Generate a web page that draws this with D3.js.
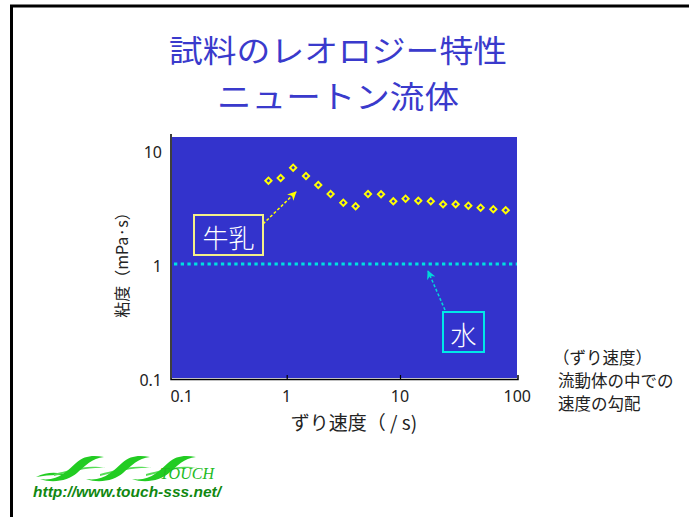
<!DOCTYPE html>
<html><head><meta charset="utf-8">
<script src="https://cdn.jsdelivr.net/npm/d3@7"></script>
<style>body{margin:0;background:#fff}svg{display:block}</style>
</head><body>
<script>
// ---- data ----
const titleLines = ["試料のレオロジー特性", "ニュートン流体"];
const shearRate = [0.69, 0.885, 1.14, 1.48, 1.90, 2.44, 3.16, 4.06, 5.22, 6.80, 8.73, 11.2, 14.5, 18.7, 24.0, 31.0, 40.1, 51.5, 66.6, 85.7];
const milkViscosity = [5.38, 5.68, 7.0, 5.91, 4.93, 4.11, 3.45, 3.21, 4.11, 4.09, 3.55, 3.74, 3.59, 3.55, 3.34, 3.34, 3.25, 3.12, 3.02, 2.96];
const waterViscosity = 1.0;
const xTicks = [0.1, 1, 10, 100];
const xTickLabels = ["0.1", "1", "10", "100"];
const yTicks = [0.1, 1, 10];
const yTickLabels = ["0.1", "1", "10"];
const xLabel = "ずり速度（ / s)";
const yLabel = "粘度（mPa·s）";
const noteLines = ["（ずり速度）", "流動体の中での", "速度の勾配"];
const milkLabel = "牛乳", waterLabel = "水";

const W = 689, H = 517;
const svg = d3.select("body").append("svg").attr("width", W).attr("height", H);
const jp = "'Noto Sans CJK JP', 'Noto Sans', sans-serif";

// slide frame
svg.append("rect").attr("x", 11.5).attr("y", 6).attr("width", 700).attr("height", 540)
  .attr("fill", "none").attr("stroke", "#000").attr("stroke-width", 3);

// title
svg.selectAll("text.title").data(titleLines).join("text")
  .attr("x", 338).attr("y", (d, i) => 48 + i * 46)
  .attr("text-anchor", "middle").attr("dominant-baseline", "central")
  .attr("font-family", jp).attr("font-size", 31).attr("fill", "#3a3acc")
  .attr("textLength", (d, i) => i === 0 ? 338 : 242).attr("lengthAdjust", "spacingAndGlyphs")
  .text(d => d);

// scales
const x = d3.scaleLog().domain([0.1, 100]).range([173.4, 513.3]);
const y = d3.scaleLog().domain([0.1, 10]).range([378, 150]);

// plot background
svg.append("rect").attr("x", 172).attr("y", 137).attr("width", 517 - 172).attr("height", 378 - 137)
  .attr("fill", "#3333cc");

// axes
const gx = svg.append("g").attr("transform", "translate(0,379)")
  .call(d3.axisBottom(x).tickValues([1, 10]).tickSize(-4).tickFormat(""));
gx.select(".domain").remove();
gx.selectAll(".tick line").attr("stroke", "#000").attr("stroke-width", 1.2);
svg.append("path").attr("d", "M171,134V379.5H518V375").attr("fill", "none").attr("stroke", "#000").attr("stroke-width", 1.5);

svg.selectAll("text.xt").data(xTicks).join("text")
  .attr("x", (d, i) => i === 0 ? x(d) - 3 : x(d) + (i === 3 ? 4 : 0))
  .attr("y", 396).attr("text-anchor", (d, i) => i === 0 ? "start" : "middle")
  .attr("dominant-baseline", "central")
  .attr("font-family", "'Noto Sans', sans-serif").attr("font-size", 16).attr("fill", "#222")
  .text((d, i) => xTickLabels[i]);
svg.selectAll("text.yt").data(yTicks).join("text")
  .attr("x", 162).attr("y", d => y(d) + 2).attr("text-anchor", "end")
  .attr("dominant-baseline", "central")
  .attr("font-family", "'Noto Sans', sans-serif").attr("font-size", 16).attr("fill", "#222")
  .text((d, i) => yTickLabels[i]);

svg.append("text").attr("x", 354).attr("y", 421).attr("text-anchor", "middle")
  .attr("dominant-baseline", "central").attr("font-family", jp).attr("font-size", 19).attr("fill", "#222")
  .text(xLabel);
svg.append("text").attr("transform", "translate(121,261) rotate(-90)").attr("text-anchor", "middle")
  .attr("dominant-baseline", "central").attr("font-family", jp).attr("font-size", 16).attr("fill", "#222")
  .text(yLabel);

// water line
svg.append("line").attr("x1", 174).attr("x2", 517).attr("y1", y(waterViscosity)).attr("y2", y(waterViscosity))
  .attr("stroke", "#00e0e0").attr("stroke-width", 3.2).attr("stroke-dasharray", "3.3,3.4");

// milk markers
const sym = d3.symbol().type(d3.symbolSquare).size(20);
svg.selectAll("path.milk").data(shearRate).join("path")
  .attr("transform", (d, i) => `translate(${x(d)},${y(milkViscosity[i])}) rotate(45)`)
  .attr("d", sym).attr("fill", "#3333cc").attr("stroke", "#ffff00").attr("stroke-width", 1.9);

// arrows
const defs = svg.append("defs");
function marker(id, color) {
  defs.append("marker").attr("id", id).attr("viewBox", "0 0 10 10").attr("refX", 9).attr("refY", 5)
    .attr("markerWidth", 9).attr("markerHeight", 9).attr("orient", "auto").attr("markerUnits", "userSpaceOnUse")
    .append("path").attr("d", "M0,0L10,5L0,10L3,5Z").attr("fill", color);
}
marker("ay", "#ffff00"); marker("ac", "#00d8d8");
svg.append("line").attr("x1", 263).attr("y1", 224).attr("x2", 296).attr("y2", 192)
  .attr("stroke", "#ffff00").attr("stroke-width", 1.5).attr("stroke-dasharray", "3,2").attr("marker-end", "url(#ay)");
svg.append("line").attr("x1", 445).attr("y1", 310).attr("x2", 428).attr("y2", 271)
  .attr("stroke", "#00d8d8").attr("stroke-width", 1.5).attr("stroke-dasharray", "3,2").attr("marker-end", "url(#ac)");

// label boxes
svg.append("rect").attr("x", 194).attr("y", 215).attr("width", 69).attr("height", 40)
  .attr("fill", "none").attr("stroke", "#f4f088").attr("stroke-width", 2);
svg.append("text").attr("x", 228.5).attr("y", 236).attr("text-anchor", "middle").attr("dominant-baseline", "central")
  .attr("font-family", jp).attr("font-size", 26).attr("font-weight", 300).attr("fill", "#fff").text(milkLabel);
svg.append("rect").attr("x", 443).attr("y", 312).attr("width", 41).attr("height", 40)
  .attr("fill", "none").attr("stroke", "#00e8e8").attr("stroke-width", 2);
svg.append("text").attr("x", 463.5).attr("y", 333).attr("text-anchor", "middle").attr("dominant-baseline", "central")
  .attr("font-family", jp).attr("font-size", 26).attr("font-weight", 300).attr("fill", "#fff").text(waterLabel);

// side note
svg.selectAll("text.note").data(noteLines).join("text")
  .attr("x", (d, i) => i === 0 ? 553 : 558).attr("y", (d, i) => 357 + i * 23)
  .attr("dominant-baseline", "central").attr("font-family", jp).attr("font-size", 16.5).attr("fill", "#222")
  .text(d => d);

// logo
const lg = svg.append("g").attr("fill", "#22cc22");
lg.append("path").attr("d", "M36,477 C48,471 60,472 68,476 C58,474 48,475 36,477 Z");
[0, 46, 92].forEach(dx => {
  const ox = 40 + dx;
  lg.append("path").attr("fill", "#55dd55")
    .attr("d", `M${ox + 14},474 C${ox + 30},470 ${ox + 46},464 ${ox + 66},468 C${ox + 48},467 ${ox + 32},472 ${ox + 14},476 Z`);
  lg.append("path")
    .attr("d", `M${ox},479 C${ox + 18},482 ${ox + 28},470 ${ox + 36},463 C${ox + 44},456 ${ox + 52},455 ${ox + 64},457 C${ox + 52},458 ${ox + 45},466 ${ox + 37},473 C${ox + 29},480 ${ox + 14},484 ${ox},479 Z`);
});
svg.append("text").attr("x", 160).attr("y", 479).attr("font-family", "'Liberation Serif', serif")
  .attr("font-style", "italic").attr("font-size", 16).attr("fill", "#22bb22").text("TOUCH");
svg.append("text").attr("x", 33).attr("y", 497).attr("font-family", "'Liberation Sans', Arial, sans-serif")
  .attr("font-style", "italic").attr("font-weight", "bold").attr("font-size", 15.5).attr("fill", "#118811")
  .text("http://www.touch-sss.net/");
</script>
</body></html>
